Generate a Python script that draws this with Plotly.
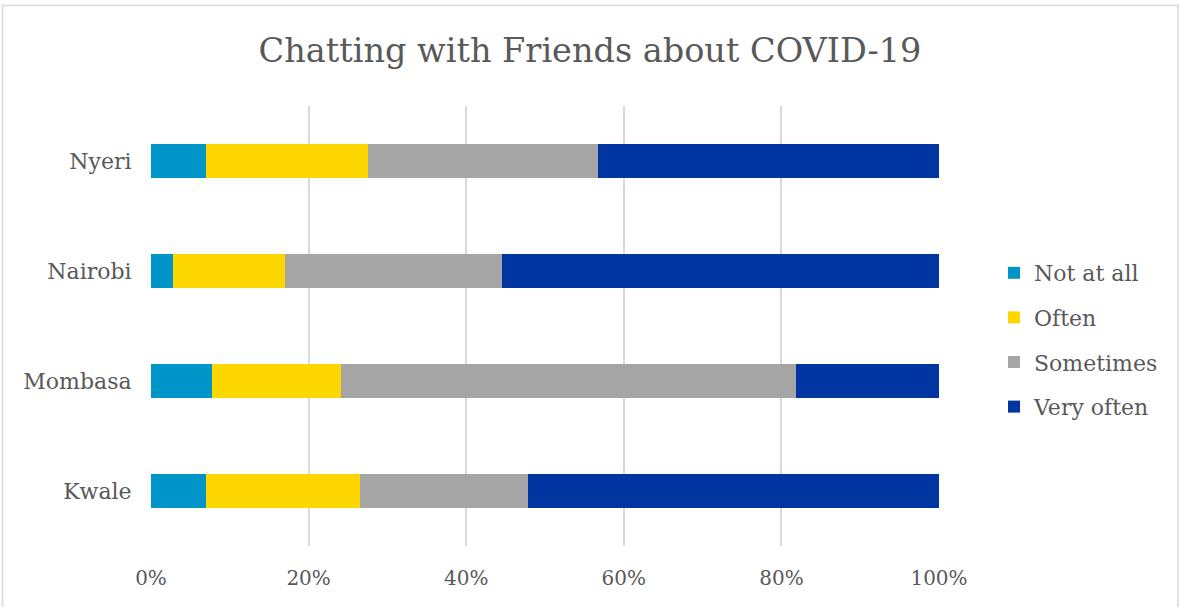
import plotly.graph_objects as go

# Counties, bottom to top
counties = ["Kwale", "Mombasa", "Nairobi", "Nyeri"]

# Share of respondents (%) per answer, in county order
not_at_all = [7.0, 7.7, 2.8, 7.0]
often = [19.5, 16.4, 14.2, 20.5]
sometimes = [21.4, 57.8, 27.6, 29.2]
very_often = [52.1, 18.1, 55.4, 43.3]

series_names = ["Not at all", "Often", "Sometimes", "Very often"]
series_values = [not_at_all, often, sometimes, very_often]
series_colors = ["#0095C8", "#FFD700", "#A5A5A5", "#0035A2"]

tick_values = [0, 20, 40, 60, 80, 100]
tick_labels = ["0%", "20%", "40%", "60%", "80%", "100%"]

W, H = 1180, 607
ML, MR, MT, MB = 151, 241, 106, 61
TEXT = "#595959"
FONT = "DejaVu Serif"

fig = go.Figure()
for name, vals, col in zip(series_names, series_values, series_colors):
    fig.add_trace(go.Bar(
        y=counties, x=vals, name=name, orientation="h",
        marker=dict(color=col, line=dict(width=0)),
        legendgroup=name,
    ))

pw = W - ML - MR
ph = H - MT - MB

fig.update_layout(
    width=W, height=H,
    margin=dict(l=ML, r=MR, t=MT, b=MB),
    barmode="stack",
    bargap=0.69,
    paper_bgcolor="white",
    plot_bgcolor="white",
    font=dict(family=FONT, color=TEXT, size=21),
    title=dict(
        text="Chatting with Friends about COVID-19",
        x=0.5, xanchor="center", y=1 - 50 / H, yanchor="middle",
        font=dict(family=FONT, size=33.5, color=TEXT),
    ),
    xaxis=dict(
        range=[0, 100], tickvals=tick_values, ticktext=tick_labels,
        showgrid=True, gridcolor="#D9D9D9", gridwidth=2,
        zeroline=False, showline=False,
        ticks="outside", ticklen=14, tickcolor="rgba(0,0,0,0)",
        tickfont=dict(family=FONT, size=20, color=TEXT),
        fixedrange=True,
    ),
    yaxis=dict(
        showgrid=False, zeroline=False, showline=False,
        ticks="outside", ticklen=14, tickcolor="rgba(0,0,0,0)",
        tickfont=dict(family=FONT, size=22, color=TEXT),
        fixedrange=True,
    ),
    legend=dict(
        x=(994 - ML) / pw, xanchor="left",
        y=0.5 - 14 / ph, yanchor="middle",
        traceorder="grouped", tracegroupgap=13,
        font=dict(family=FONT, size=22, color=TEXT),
        itemwidth=30,
    ),
    showlegend=True,
)

# Light chart-area frame
fig.add_shape(
    type="rect", xref="paper", yref="paper",
    x0=(2.5 - ML) / pw, x1=(1178 - ML) / pw,
    y0=-(MB + 5) / ph, y1=1 + (MT - 5.5) / ph,
    line=dict(color="#D9D9D9", width=1.5), fillcolor="rgba(0,0,0,0)",
    layer="below",
)

fig.write_html("out.html")
